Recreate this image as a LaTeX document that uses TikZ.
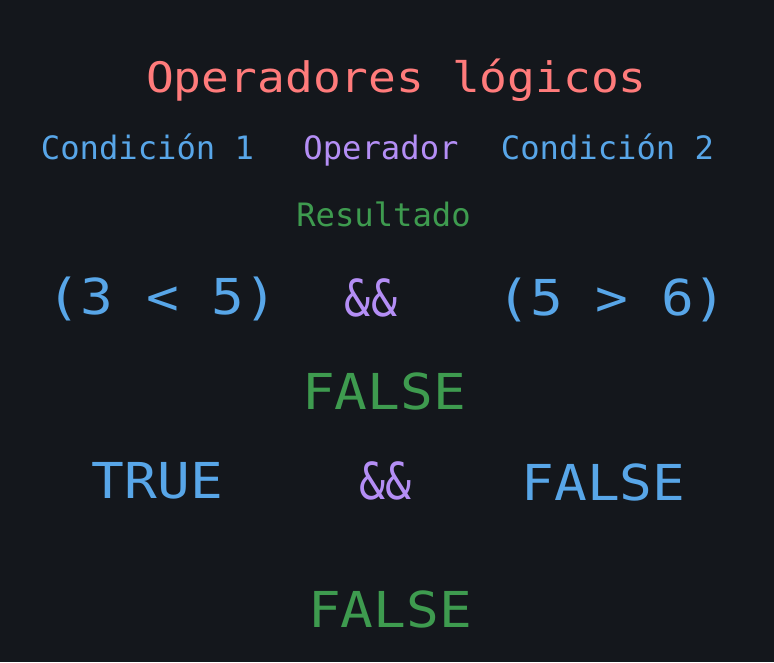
\documentclass[tikz,border=0pt]{standalone}
\usepackage{fontspec}
\newfontfamily\plainmono{DejaVu Sans Mono}
\newfontfamily\widemono{DejaVu Sans Mono}[FakeStretch=1.1]
\newfontfamily\narrowmono{DejaVu Sans Mono}[FakeStretch=0.85]
\definecolor{fondo}{HTML}{14171C}
\definecolor{rojo}{HTML}{FF7B7B}
\definecolor{azul}{HTML}{58A6E8}
\definecolor{morado}{HTML}{B48EF5}
\definecolor{verde}{HTML}{3E9B4F}

\begin{document}
\begin{tikzpicture}[x=1pt, y=-1pt,
    every node/.style={inner sep=0pt, anchor=base},
    titulo/.style={text=rojo, font=\widemono\fontsize{42}{50}\selectfont},
    cabecera/.style={font=\plainmono\fontsize{32.2}{38}\selectfont},
    grande/.style={font=\widemono\fontsize{49.5}{58}\selectfont},
    operador/.style={text=morado, font=\narrowmono\fontsize{51}{58}\selectfont}]
    \fill[fondo] (0,0) rectangle (774,662);
    \node[titulo] (titulo) at (396.5,92) {Operadores lógicos};
    % cabeceras
    \node[cabecera, text=azul]   (cond1) at (147.5,159.5) {Condición 1};
    \node[cabecera, text=morado] (oper)  at (381,159.5)   {Operador};
    \node[cabecera, text=azul]   (cond2) at (607.5,159.5) {Condición 2};
    \node[cabecera, text=verde]  (res)   at (383.5,226.5) {Resultado};
    % primera fila
    \node[grande, text=azul]   (expr1) at (162.5,314) {(3 < 5)};
    \node[operador]            (and1)  at (371,316)   {\&\&};
    \node[grande, text=azul]   (expr2) at (612,315)   {(5 > 6)};
    \node[grande, text=verde]  (res1)  at (384,409)   {FALSE};
    % segunda fila
    \node[grande, text=azul]   (val1)  at (157.5,498) {TRUE};
    \node[operador]            (and2)  at (385.5,499) {\&\&};
    \node[grande, text=azul]   (val2)  at (603.5,500) {FALSE};
    \node[grande, text=verde]  (res2)  at (390,627)   {FALSE};
\end{tikzpicture}
\end{document}
